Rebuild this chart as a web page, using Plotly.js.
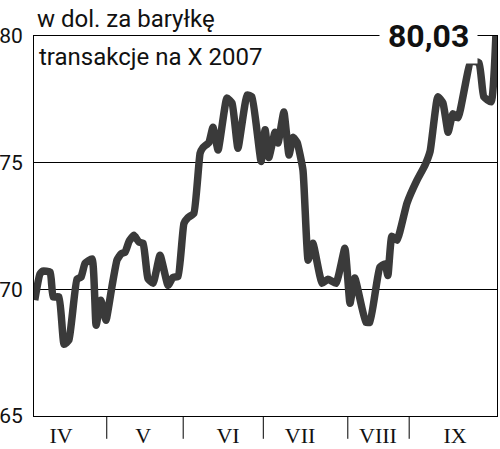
<!DOCTYPE html>
<html>
<head>
<meta charset="utf-8">
<script src="https://cdn.plot.ly/plotly-3.0.1.min.js"></script>
<style>
  html, body { margin: 0; padding: 0; background: #fff; }
  #chart { width: 500px; height: 449px; }
</style>
</head>
<body>
<div id="chart"></div>
<script>
// Trading-session index (0 = start of April) and price in USD per barrel
const sessionIdx = [0.2, 1.6, 2.4, 4.4, 5.2, 6.8, 8.2, 9.5, 11.7, 12.8, 13.9, 15.8, 16.9, 18.2, 18.8, 19.6,
  21.2, 22.6, 23.7, 24.8, 25.9, 27.2, 28.6, 29.7, 31.0, 32.4, 34.3, 36.5, 37.8, 39.2,
  40.8, 41.9, 43.5, 45.2, 46.0, 47.6, 48.7, 50.1, 52.5, 53.9, 55.5, 58.0, 59.3, 61.8,
  62.9, 63.9, 65.6, 66.4, 68.0, 69.4, 70.5, 71.6, 73.2, 74.6, 75.9, 78.4, 80.0, 82.2, 84.6,
  86.0, 87.3, 90.3, 91.4, 94.1, 95.5, 96.3, 97.4, 98.8, 101.5, 104.2, 106.4, 107.8, 109.9,
  111.3, 112.7, 114.0, 115.4, 118.9, 121.1, 122.4, 124.4, 125.7];
const price = [69.57, 70.6, 70.72, 70.68, 69.7, 69.7, 67.83, 68.0, 70.4, 70.48, 71.03, 71.2, 68.58, 69.57, 69.25, 68.78,
  70.1, 71.16, 71.4, 71.47, 71.9, 72.13, 71.86, 71.82, 70.43, 70.24, 71.35, 70.15, 70.47, 70.51,
  72.6, 72.83, 73.0, 75.37, 75.6, 75.8, 76.4, 75.5, 77.55, 77.35, 75.57, 77.67, 77.6, 75.05,
  76.3, 75.2, 76.2, 75.78, 77.0, 75.3, 76.0, 75.8, 74.7, 71.15, 71.82, 70.24, 70.4, 70.24, 71.62,
  69.45, 70.45, 68.7, 68.7, 70.87, 71.0, 70.55, 72.1, 71.94, 73.4, 74.3, 74.9, 75.45, 77.6,
  77.35, 76.2, 76.93, 76.77, 79.0, 78.94, 77.6, 77.4, 80.03];

const months = ["IV", "V", "VI", "VII", "VIII", "IX"];
const monthLabelPos = [7.35, 29.7, 52.8, 72.4, 93.6, 114.6];
const monthBounds = [19.8, 40.6, 62.4, 85.4, 102.1];
const yTicks = [65, 70, 75, 80];
const unitLabel = "w dol. za baryłkę";
const subLabel = "transakcje na X 2007";
const lastValue = price[price.length - 1];

const trace = {
  x: sessionIdx,
  y: price,
  type: 'scatter',
  mode: 'lines',
  line: { color: '#3a3a3a', width: 7.5, shape: 'spline', smoothing: 0.4 },
  hoverinfo: 'skip'
};

const shapes = monthBounds.map(b => ({
  type: 'line', xref: 'x', yref: 'paper',
  x0: b, x1: b, y0: 0, y1: -0.06,
  line: { color: '#000', width: 1 }
}));

const layout = {
  width: 500, height: 449,
  margin: { l: 34, r: 3, t: 36, b: 33 },
  paper_bgcolor: '#fff', plot_bgcolor: '#fff',
  showlegend: false,
  font: { family: 'Roboto, sans-serif', color: '#111' },
  xaxis: {
    range: [0, 126],
    showline: true, mirror: true, linecolor: '#000', linewidth: 1,
    showgrid: false, zeroline: false,
    tickmode: 'array', tickvals: monthLabelPos, ticktext: months,
    ticks: '', ticklabelstandoff: 0,
    tickfont: { family: '"Liberation Serif", serif', size: 22, color: '#111' }
  },
  yaxis: {
    range: [65, 80],
    showline: true, mirror: true, linecolor: '#000', linewidth: 1,
    showgrid: true, gridcolor: '#000', gridwidth: 1, zeroline: false,
    tickmode: 'array', tickvals: yTicks,
    ticks: '', ticklabelstandoff: 6,
    tickfont: { family: 'Roboto, sans-serif', size: 21, color: '#111' }
  },
  shapes: shapes,
  annotations: [
    {
      xref: 'paper', yref: 'paper', x: 0.002, y: 1.045,
      xanchor: 'left', yanchor: 'middle', showarrow: false,
      text: unitLabel, font: { family: 'Roboto, sans-serif', size: 24, color: '#111' }
    },
    {
      xref: 'paper', yref: 'paper', x: 0.006, y: 0.945,
      xanchor: 'left', yanchor: 'middle', showarrow: false,
      text: subLabel, font: { family: 'Roboto, sans-serif', size: 24, color: '#111' }
    },
    {
      xref: 'paper', yref: 'y', x: 0.852, y: 80,
      xanchor: 'center', yanchor: 'middle', showarrow: false,
      text: '<b>' + lastValue.toFixed(2).replace('.', ',') + '</b>',
      bgcolor: '#fff', borderpad: 8,
      font: { family: 'Roboto, sans-serif', size: 32, color: '#111' }
    }
  ]
};

Plotly.newPlot('chart', [trace], layout, { staticPlot: true, displayModeBar: false });
</script>
</body>
</html>
